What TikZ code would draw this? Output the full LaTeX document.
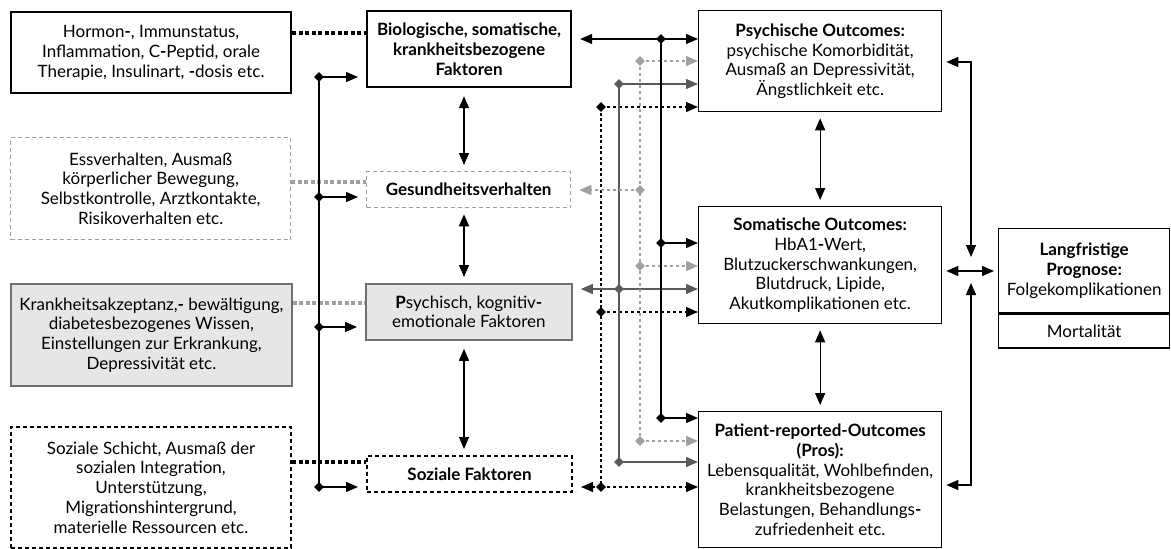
\documentclass[tikz,border=0pt]{standalone}
\usepackage{fontspec}
\setmainfont{Lato}
\usetikzlibrary{arrows.meta,positioning,shapes.geometric}
\definecolor{lgray}{HTML}{A0A0A0}
\definecolor{mgray}{HTML}{5A5A5A}
\definecolor{bgray}{HTML}{707070}
\definecolor{fgray}{HTML}{E6E6E6}
\newcommand\bhy{\textbf{-}}
\tikzset{
  box/.style={draw, anchor=north west, align=center, inner sep=0pt,
    line width=1.3pt, font=\fontsize{17}{19.8}\selectfont},
  thickbox/.style={box, line width=2.2pt},
  graybox/.style={box, draw=lgray, dash pattern=on 4pt off 3pt},
  fillbox/.style={box, draw=bgray, fill=fgray, line width=1.8pt},
  dotbox/.style={box, line width=2pt, dash pattern=on 4pt off 3pt},
  knot/.style={diamond, fill, inner sep=0pt, minimum size=10pt},
  link/.style={line width=1.3pt},
  arr/.style={link, -{Triangle[length=12pt,width=10pt]}},
  dbl/.style={link, {Triangle[length=12pt,width=10pt]}-{Triangle[length=12pt,width=10pt]}},
  dotlink/.style={line width=3.2pt, dash pattern=on 4pt off 2.5pt},
  back/.style={shorten >=8pt}
}
\begin{document}
\begin{tikzpicture}[x=1pt,y=-1pt]
\useasboundingbox (0,0) rectangle (1171,549);
% left column
\node[thickbox, minimum width=280pt, minimum height=81pt] (hormon) at (10,11)
  {Hormon\bhy, Immunstatus,\\Inflammation, C\bhy Peptid, orale\\Therapie, Insulinart, \bhy dosis etc.};
\node[graybox, minimum width=280pt, minimum height=102pt] (ess) at (10,137)
  {Essverhalten, Ausmaß\\körperlicher Bewegung,\\Selbstkontrolle, Arztkontakte,\\Risikoverhalten etc.};
\node[fillbox, minimum width=281pt, minimum height=102pt] (akz) at (10,283)
  {Krankheitsakzeptanz,\bhy{} bewältigung,\\diabetesbezogenes Wissen,\\Einstellungen zur Erkrankung,\\Depressivität etc.};
\node[dotbox, minimum width=280pt, minimum height=121pt] (schicht) at (10,426)
  {Soziale Schicht, Ausmaß der\\sozialen Integration,\\Unterstützung,\\Migrationshintergrund,\\materielle Ressourcen etc.};
% middle column
\node[thickbox, minimum width=204pt, minimum height=76pt] (bio) at (366,10)
  {\textbf{Biologische, somatische,}\\\textbf{krankheitsbezogene}\\\textbf{Faktoren}};
\node[graybox, minimum width=204pt, minimum height=36pt] (gesund) at (366,171)
  {\textbf{Gesundheitsverhalten}};
\node[fillbox, minimum width=206pt, minimum height=56pt] (kogn) at (365,283)
  {\textbf{P}sychisch, kognitiv\bhy\\emotionale Faktoren};
\node[dotbox, minimum width=205pt, minimum height=36pt] (soz) at (366,455)
  {\textbf{Soziale Faktoren}};
% right column
\node[box, minimum width=243pt, minimum height=101pt] (psy) at (698,10)
  {\textbf{Psychische Outcomes:}\\psychische Komorbidität,\\Ausmaß an Depressivität,\\Ängstlichkeit etc.};
\node[box, minimum width=243pt, minimum height=117pt] (som) at (698,206)
  {\textbf{Somatische Outcomes:}\\HbA1\bhy Wert,\\Blutzuckerschwankungen,\\Blutdruck, Lipide,\\Akutkomplikationen etc.};
\node[box, minimum width=243pt, minimum height=136pt] (pro) at (698,411)
  {\textbf{Patient-reported-Outcomes}\\\textbf{(Pros):}\\Lebensqualität, Wohlbefinden,\\krankheitsbezogene\\Belastungen, Behandlungs\bhy\\zufriedenheit etc.};
\node[box, minimum width=171pt, minimum height=84pt] (prog) at (998,228)
  {\textbf{Langfristige}\\\textbf{Prognose:}\\Folgekomplikationen};
\node[box, anchor=north, minimum width=171pt, minimum height=34pt, below=0pt of prog] (mort)
  {Mortalität};

% dotted links left -> middle
\draw[dotlink] (hormon.east |- 0,33) -- (bio.west |- 0,33);
\draw[dotlink, lgray] (ess.east |- 0,182) -- (gesund.west |- 0,182);
\draw[dotlink, lgray] (akz.east |- 0,303) -- (kogn.west |- 0,303);
\draw[dotlink] (schicht.east |- 0,462) -- (soz.west |- 0,462);

% left bus
\node[knot] (kb1) at (319,77) {};
\node[knot] (kb2) at (319,197) {};
\node[knot] (kb3) at (319,327) {};
\node[knot] (kb4) at (319,487) {};
\draw[link] (kb1.center) -- (kb4.center);
\draw[arr, back] (kb1.center) -- (bio.west |- kb1);
\draw[arr, back] (kb2.center) -- (gesund.west |- kb2);
\draw[arr, back] (kb3.center) -- (kogn.west |- kb3);
\draw[arr, back] (kb4.center) -- (soz.west |- kb4);

% middle column arrows
\draw[dbl, shorten <=8pt, shorten >=6pt] (bio.south -| 464,0) -- (gesund.north -| 464,0);
\draw[dbl, shorten <=6pt, shorten >=6pt] (gesund.south -| 464,0) -- (kogn.north -| 464,0);
\draw[dbl, shorten <=8pt, shorten >=6pt] (kogn.south -| 464,0) -- (soz.north -| 464,0);

% black dashed bus
\node[knot] (kd1) at (601,107) {};
\node[knot] (kd2) at (601,312) {};
\node[knot] (kd3) at (601,487) {};
\draw[link, dash pattern=on 3pt off 2.5pt] (kd1.center) -- (kd3.center);
\draw[arr, dashed] (kd1.center) -- (psy.west |- kd1);
\draw[arr, dashed] (kd2.center) -- (som.west |- kd2);
\draw[arr, dashed] (kd3.center) -- (pro.west |- kd3);
\draw[arr, dashed, back] (kd3.center) -- (soz.east |- kd3);

% gray solid bus
\node[knot, fill=mgray] (km1) at (619,84) {};
\node[knot, fill=mgray] (km2) at (619,289) {};
\node[knot, fill=mgray] (km3) at (619,462) {};
\draw[link, mgray] (km1.center) -- (km3.center);
\draw[arr, mgray] (km1.center) -- (psy.west |- km1);
\draw[arr, mgray] (km2.center) -- (som.west |- km2);
\draw[arr, mgray, back] (km2.center) -- (kogn.east |- km2);
\draw[arr, mgray] (km3.center) -- (pro.west |- km3);

% light gray dashed bus
\node[knot, fill=lgray] (kl1) at (640,61) {};
\node[knot, fill=lgray] (kl2) at (640,190) {};
\node[knot, fill=lgray] (kl3) at (640,266) {};
\node[knot, fill=lgray] (kl4) at (640,441) {};
\draw[link, lgray, dashed] (kl1.center) -- (kl4.center);
\draw[arr, lgray, dashed] (kl1.center) -- (psy.west |- kl1);
\draw[arr, lgray, dashed, back] (kl2.center) -- (gesund.east |- kl2);
\draw[arr, lgray, dashed] (kl3.center) -- (som.west |- kl3);
\draw[arr, lgray, dashed] (kl4.center) -- (pro.west |- kl4);

% black solid bus
\node[knot] (ks1) at (661,39) {};
\node[knot] (ks2) at (661,243) {};
\node[knot] (ks3) at (661,418) {};
\draw[link] (ks1.center) -- (ks3.center);
\draw[arr] (ks1.center) -- (psy.west |- ks1);
\draw[arr, back] (ks1.center) -- (bio.east |- ks1);
\draw[arr] (ks2.center) -- (som.west |- ks2);
\draw[arr] (ks3.center) -- (pro.west |- ks3);

% outcomes
\draw[dbl, shorten <=6pt, shorten >=6pt] (psy.south) -- (som.north);
\draw[dbl, shorten <=6pt, shorten >=6pt] (som.south) -- (pro.north);
\draw[dbl, shorten <=4pt] (psy.east |- 0,62) -| (971,257);
\draw[dbl, shorten <=4pt] (pro.east |- 0,485) -| (971,283);
\draw[dbl, shorten <=4pt, shorten >=4pt] (som.east |- 0,271) -- (prog.west |- 0,271);
\end{tikzpicture}
\end{document}
